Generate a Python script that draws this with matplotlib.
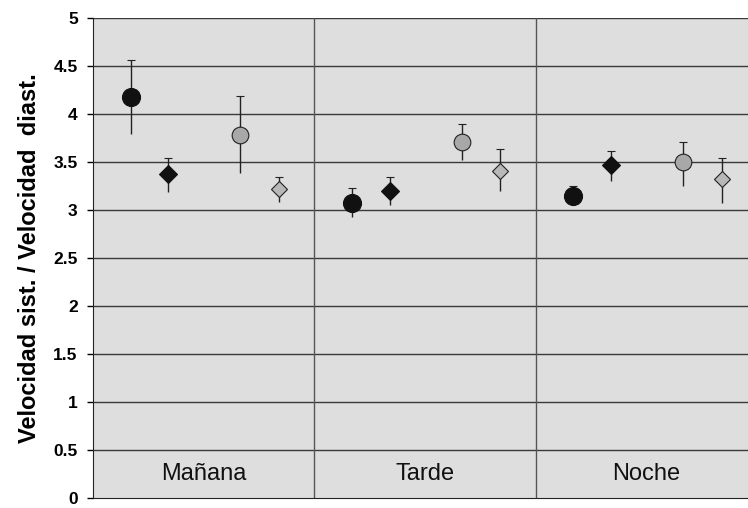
import matplotlib
matplotlib.use("Agg")
import matplotlib.pyplot as plt
import numpy as np

plt.rcParams['font.family'] = ['Liberation Sans', 'DejaVu Sans']

categories = ["Mañana", "Tarde", "Noche"]
offsets = [-0.33, -0.16, 0.165, 0.34]

# series values (mean, lower end, upper end) per category
s1_mean = [4.18, 3.07, 3.15]
s1_low = [3.79, 2.93, 3.05]
s1_high = [4.56, 3.23, 3.25]

s2_mean = [3.37, 3.20, 3.47]
s2_low = [3.19, 3.05, 3.30]
s2_high = [3.54, 3.34, 3.61]

s3_mean = [3.78, 3.71, 3.50]
s3_low = [3.39, 3.52, 3.25]
s3_high = [4.19, 3.90, 3.71]

s4_mean = [3.22, 3.41, 3.32]
s4_low = [3.08, 3.20, 3.07]
s4_high = [3.34, 3.64, 3.54]

yticks = [0, 0.5, 1, 1.5, 2, 2.5, 3, 3.5, 4, 4.5, 5]
ytick_labels = ["0", "0.5", "1", "1.5", "2", "2.5", "3", "3.5", "4", "4.5", "5"]

series = [
    (s1_mean, s1_low, s1_high, 'o', 13, '#111111'),
    (s2_mean, s2_low, s2_high, 'D', 9, '#111111'),
    (s3_mean, s3_low, s3_high, 'o', 12, '#a8a8a8'),
    (s4_mean, s4_low, s4_high, 'D', 8, '#b8b8b8'),
]

fig = plt.figure(figsize=(7.48, 5.08), dpi=100)
ax = fig.add_axes([93/748, 10/508, 664/748, 480/508])
ax.set_facecolor('#dedede')
ax.set_xlim(0, 3)
ax.set_ylim(0, 5)

for y in yticks[1:]:
    ax.axhline(y, color='#3a3a3a', lw=1.0, zorder=1)
for x in [1, 2]:
    ax.axvline(x, color='#555555', lw=1.0, zorder=1)

base = np.arange(len(categories)) + 0.5
for (m, lo, hi, mk, ms, col), off in zip(series, offsets):
    m = np.array(m); lo = np.array(lo); hi = np.array(hi)
    xs = base + off
    eb = ax.errorbar(xs, m, yerr=[m - lo, hi - m], fmt=mk, ms=ms, mfc=col,
                     mec='#222222' if col != '#111111' else '#111111', mew=0.8,
                     ecolor='#222222', elinewidth=1.0, capsize=3, capthick=1.0, zorder=3)
    caplines = eb[1]
    if len(caplines) >= 1:
        caplines[0].set_visible(False)

for i, c in enumerate(categories):
    ax.text(base[i], 0.25, c, ha='center', va='center', fontsize=17, color='#111111', zorder=4)

ax.set_xticks([])
ax.set_yticks(yticks)
ax.set_yticklabels(ytick_labels, fontsize=12.5, fontweight='bold')
ax.tick_params(axis='y', direction='out', length=4, width=1, pad=7)
ax.set_ylabel("Velocidad sist. / Velocidad  diast.", fontsize=17, fontweight='bold', labelpad=9)
for s in ['top', 'right']:
    ax.spines[s].set_visible(False)
ax.spines['left'].set_color('#222222')
ax.spines['bottom'].set_color('#222222')

fig.savefig("out.png", dpi=100)
